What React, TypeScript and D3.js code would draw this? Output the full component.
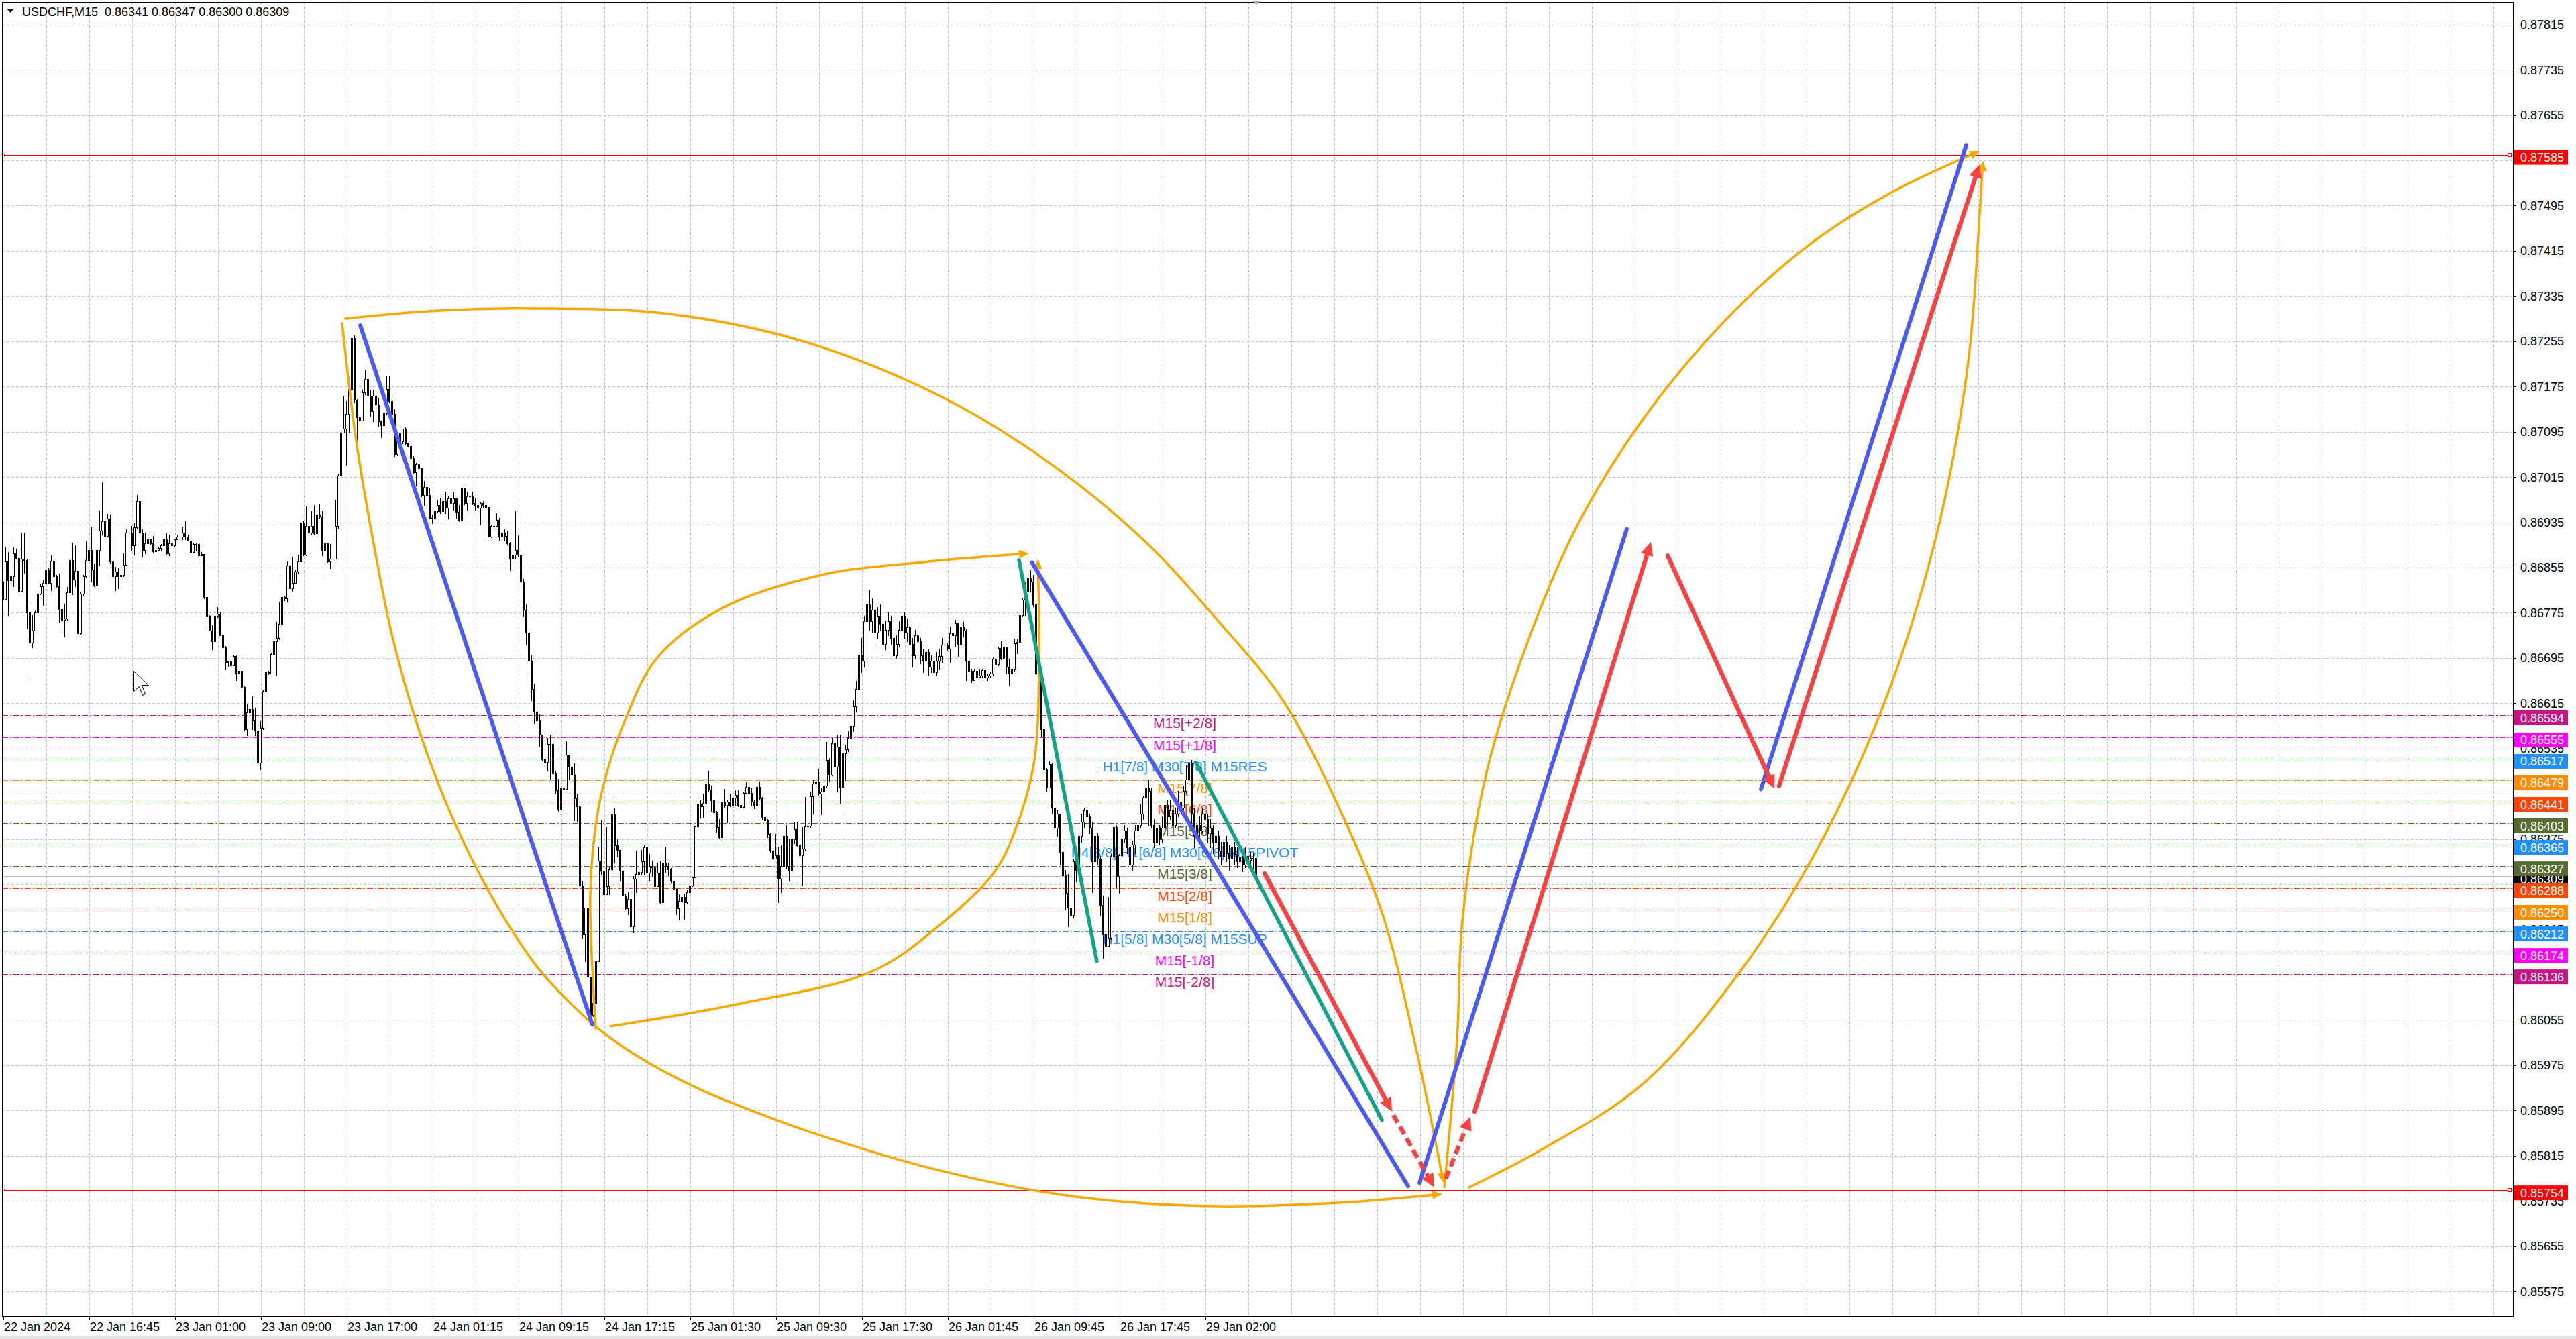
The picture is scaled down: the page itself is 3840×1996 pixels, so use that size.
import { useEffect } from 'react';
import * as d3 from 'd3';

// USDCHF M15 -- all prices are in points (1 point = 0.00001)

const W = 3840;
const H = 1996;
const FONT = '"Liberation Sans", Arial, sans-serif';

const firstOpen = 86830;

const closes = [
  86799, 86866, 86832, 86839, 86880, 86872, 86813, 86870, 86868, 86775,
  86722, 86743, 86776, 86809, 86822, 86828, 86851, 86828, 86867, 86840,
  86822, 86781, 86763, 86765, 86811, 86868, 86834, 86849, 86739, 86809,
  86840, 86868, 86886, 86852, 86824, 86886, 86920, 86937, 86911, 86942,
  86866, 86840, 86848, 86840, 86842, 86860, 86917, 86917, 86894, 86926,
  86973, 86917, 86886, 86898, 86905, 86898, 86884, 86886, 86889, 86894,
  86905, 86880, 86898, 86894, 86905, 86909, 86909, 86917, 86909, 86903,
  86882, 86896, 86896, 86876, 86879, 86803, 86769, 86743, 86724, 86769,
  86773, 86735, 86714, 86688, 86689, 86682, 86698, 86667, 86672, 86644,
  86569, 86599, 86605, 86585, 86567, 86510, 86571, 86637, 86670, 86668,
  86702, 86724, 86731, 86755, 86803, 86801, 86858, 86818, 86828, 86848,
  86866, 86934, 86878, 86929, 86917, 86929, 86915, 86949, 86945, 86886,
  86898, 86866, 86870, 86870, 86929, 87017, 87093, 87100, 87127, 87170,
  87261, 87151, 87121, 87115, 87165, 87188, 87159, 87131, 87159, 87143,
  87113, 87107, 87128, 87171, 87149, 87127, 87056, 87093, 87078, 87100,
  87074, 87070, 87048, 87024, 87038, 87030, 86983, 86997, 86983, 86943,
  86942, 86955, 86965, 86955, 86973, 86961, 86977, 86969, 86977, 86953,
  86939, 86995, 86969, 86981, 86981, 86969, 86965, 86961, 86969, 86965,
  86962, 86910, 86929, 86929, 86939, 86910, 86917, 86911, 86898, 86870,
  86878, 86886, 86878, 86830, 86780, 86740, 86690, 86640, 86600, 86585,
  86560, 86516, 86511, 86543, 86543, 86491, 86461, 86427, 86465, 86463,
  86524, 86503, 86489, 86447, 86433, 86293, 86206, 86253, 86131, 86064,
  86085, 86159, 86337, 86319, 86277, 86291, 86321, 86418, 86364, 86356,
  86319, 86275, 86252, 86269, 86220, 86305, 86313, 86317, 86335, 86360,
  86315, 86327, 86325, 86291, 86315, 86263, 86333, 86327, 86321, 86301,
  86287, 86252, 86266, 86273, 86263, 86281, 86293, 86307, 86397, 86437,
  86433, 86439, 86473, 86462, 86443, 86422, 86396, 86378, 86441, 86435,
  86441, 86435, 86448, 86453, 86435, 86431, 86457, 86467, 86457, 86441,
  86435, 86467, 86447, 86414, 86408, 86384, 86354, 86340, 86346, 86305,
  86327, 86380, 86327, 86319, 86374, 86392, 86364, 86346, 86358, 86397,
  86398, 86451, 86473, 86475, 86455, 86459, 86469, 86514, 86489, 86544,
  86503, 86538, 86467, 86526, 86534, 86554, 86575, 86610, 86640, 86700,
  86690, 86760, 86790, 86760, 86780, 86740, 86770, 86755, 86720, 86745,
  86760, 86730, 86700, 86720, 86745, 86770, 86740, 86750, 86720, 86700,
  86735, 86725, 86700, 86690, 86705, 86680, 86690, 86670, 86690, 86699,
  86719, 86719, 86711, 86739, 86735, 86757, 86719, 86749, 86743, 86690,
  86672, 86656, 86672, 86662, 86664, 86674, 86660, 86664, 86668, 86694,
  86684, 86713, 86694, 86715, 86680, 86668, 86676, 86721, 86723, 86771,
  86798, 86812, 86836, 86830, 86790, 86668, 86675, 86569, 86498, 86466,
  86508, 86430, 86395, 86420, 86352, 86310, 86280, 86253, 86240, 86336,
  86320, 86380, 86405, 86425, 86415, 86395, 86335, 86380, 86340, 86258,
  86206, 86186, 86200, 86344, 86396, 86309, 86346, 86376, 86390, 86360,
  86330, 86365, 86390, 86400, 86420, 86448, 86465, 86460, 86400, 86370,
  86395, 86375, 86395, 86435, 86415, 86425, 86400, 86420, 86440, 86430,
  86460, 86480, 86510, 86420, 86380, 86400, 86390, 86420, 86410, 86385,
  86395, 86370, 86380, 86355, 86345, 86370, 86350, 86340, 86360, 86348,
  86335, 86342, 86330, 86345, 86338, 86341, 86341, 86309,
];

const highs = [
  86834, 86890, 86882, 86905, 86890, 86888, 86878, 86917, 86917, 86870,
  86787, 86771, 86779, 86822, 86826, 86834, 86866, 86854, 86876, 86867,
  86842, 86844, 86791, 86791, 86820, 86888, 86899, 86894, 86852, 86811,
  86842, 86901, 86888, 86927, 86862, 86888, 86956, 87006, 86945, 86950,
  86949, 86909, 86856, 86854, 86850, 86880, 86923, 86921, 86929, 86933,
  86983, 86973, 86923, 86917, 86907, 86903, 86911, 86898, 86892, 86896,
  86915, 86915, 86913, 86896, 86905, 86913, 86911, 86927, 86937, 86913,
  86905, 86898, 86898, 86909, 86882, 86879, 86805, 86771, 86753, 86775,
  86785, 86775, 86736, 86716, 86690, 86690, 86700, 86700, 86674, 86672,
  86645, 86613, 86615, 86627, 86607, 86571, 86583, 86639, 86688, 86672,
  86704, 86755, 86759, 86795, 86838, 86805, 86866, 86880, 86874, 86850,
  86878, 86943, 86937, 86963, 86947, 86955, 86965, 86967, 86967, 86955,
  86919, 86899, 86896, 86905, 86975, 87021, 87141, 87157, 87149, 87192,
  87285, 87265, 87153, 87178, 87169, 87204, 87210, 87169, 87169, 87186,
  87155, 87115, 87131, 87194, 87194, 87157, 87135, 87095, 87095, 87101,
  87103, 87076, 87078, 87052, 87040, 87046, 87030, 87008, 86997, 86995,
  86949, 86957, 86975, 86977, 86981, 86989, 86981, 86991, 86989, 86977,
  86965, 86997, 86995, 86989, 86989, 86989, 86977, 86969, 86971, 86973,
  86965, 86961, 86931, 86933, 86951, 86943, 86919, 86923, 86919, 86900,
  86884, 86955, 86912, 86880, 86835, 86790, 86745, 86700, 86650, 86610,
  86595, 86560, 86520, 86554, 86560, 86560, 86495, 86481, 86469, 86472,
  86548, 86524, 86509, 86509, 86455, 86437, 86301, 86253, 86253, 86129,
  86100, 86192, 86360, 86408, 86321, 86396, 86325, 86447, 86429, 86374,
  86354, 86321, 86277, 86281, 86281, 86309, 86354, 86344, 86356, 86364,
  86392, 86348, 86337, 86333, 86333, 86337, 86346, 86362, 86333, 86323,
  86305, 86265, 86277, 86277, 86277, 86285, 86305, 86307, 86398, 86447,
  86443, 86455, 86481, 86495, 86469, 86443, 86424, 86410, 86443, 86463,
  86443, 86455, 86457, 86461, 86461, 86441, 86459, 86475, 86469, 86465,
  86443, 86479, 86477, 86449, 86416, 86410, 86386, 86356, 86384, 86360,
  86364, 86435, 86400, 86376, 86384, 86404, 86404, 86368, 86396, 86449,
  86400, 86459, 86479, 86499, 86499, 86465, 86481, 86546, 86518, 86554,
  86550, 86560, 86560, 86530, 86542, 86565, 86590, 86620, 86655, 86710,
  86730, 86770, 86810, 86815, 86800, 86790, 86785, 86790, 86765, 86760,
  86775, 86770, 86740, 86735, 86760, 86780, 86775, 86765, 86755, 86730,
  86745, 86750, 86730, 86710, 86715, 86710, 86700, 86695, 86705, 86711,
  86731, 86723, 86721, 86751, 86763, 86763, 86747, 86753, 86759, 86747,
  86694, 86676, 86676, 86680, 86676, 86676, 86672, 86666, 86670, 86696,
  86698, 86715, 86725, 86725, 86696, 86694, 86680, 86729, 86729, 86773,
  86800, 86830, 86842, 86850, 86842, 86790, 86685, 86672, 86636, 86500,
  86512, 86510, 86440, 86425, 86410, 86360, 86320, 86313, 86258, 86340,
  86350, 86395, 86420, 86430, 86432, 86420, 86405, 86498, 86385, 86345,
  86275, 86214, 86273, 86348, 86400, 86400, 86348, 86380, 86400, 86395,
  86370, 86372, 86400, 86410, 86436, 86452, 86490, 86480, 86465, 86410,
  86400, 86400, 86415, 86440, 86445, 86445, 86430, 86430, 86460, 86450,
  86470, 86505, 86538, 86515, 86430, 86410, 86415, 86430, 86445, 86420,
  86410, 86400, 86395, 86390, 86370, 86385, 86380, 86365, 86375, 86370,
  86360, 86358, 86350, 86360, 86355, 86352, 86350, 86347,
];

const lows = [
  86797, 86818, 86771, 86822, 86822, 86870, 86783, 86813, 86846, 86747,
  86662, 86714, 86743, 86775, 86807, 86789, 86811, 86826, 86815, 86822,
  86820, 86759, 86745, 86733, 86763, 86791, 86807, 86822, 86712, 86737,
  86805, 86838, 86868, 86830, 86822, 86824, 86858, 86913, 86909, 86909,
  86862, 86838, 86815, 86818, 86838, 86840, 86858, 86913, 86886, 86878,
  86925, 86905, 86874, 86880, 86896, 86896, 86882, 86868, 86885, 86885,
  86892, 86879, 86876, 86892, 86892, 86907, 86907, 86905, 86905, 86902,
  86881, 86882, 86885, 86868, 86877, 86801, 86768, 86743, 86710, 86722,
  86767, 86735, 86712, 86676, 86681, 86681, 86683, 86656, 86663, 86644,
  86567, 86558, 86597, 86569, 86558, 86508, 86498, 86569, 86633, 86666,
  86668, 86692, 86664, 86728, 86751, 86797, 86795, 86773, 86813, 86826,
  86846, 86862, 86876, 86876, 86905, 86913, 86913, 86913, 86943, 86876,
  86836, 86864, 86854, 86862, 86870, 86925, 87014, 87095, 87036, 87095,
  87170, 87147, 87068, 87091, 87115, 87161, 87155, 87123, 87113, 87137,
  87105, 87085, 87107, 87125, 87147, 87123, 87052, 87054, 87076, 87074,
  87072, 87068, 87046, 87022, 87000, 87018, 86981, 86965, 86981, 86941,
  86933, 86933, 86953, 86951, 86949, 86951, 86941, 86949, 86957, 86943,
  86937, 86937, 86967, 86957, 86969, 86967, 86957, 86955, 86931, 86961,
  86959, 86910, 86908, 86925, 86927, 86904, 86902, 86902, 86896, 86850,
  86850, 86870, 86874, 86820, 86770, 86720, 86670, 86620, 86580, 86560,
  86540, 86514, 86508, 86495, 86481, 86479, 86457, 86424, 86418, 86425,
  86465, 86481, 86457, 86408, 86406, 86291, 86200, 86159, 86085, 86050,
  86062, 86068, 86204, 86313, 86234, 86277, 86277, 86313, 86333, 86344,
  86301, 86256, 86250, 86242, 86214, 86210, 86281, 86297, 86313, 86313,
  86313, 86301, 86309, 86287, 86301, 86261, 86267, 86317, 86311, 86297,
  86283, 86242, 86232, 86238, 86234, 86261, 86277, 86291, 86309, 86392,
  86412, 86414, 86435, 86459, 86424, 86412, 86388, 86376, 86376, 86431,
  86404, 86433, 86431, 86435, 86433, 86427, 86433, 86455, 86453, 86435,
  86429, 86431, 86445, 86410, 86404, 86378, 86352, 86339, 86342, 86263,
  86281, 86325, 86323, 86301, 86315, 86368, 86363, 86329, 86293, 86356,
  86394, 86396, 86420, 86471, 86453, 86418, 86447, 86467, 86477, 86487,
  86500, 86459, 86439, 86422, 86479, 86530, 86550, 86565, 86600, 86630,
  86670, 86680, 86740, 86745, 86740, 86720, 86730, 86745, 86700, 86710,
  86735, 86720, 86690, 86695, 86715, 86740, 86730, 86725, 86705, 86680,
  86695, 86715, 86685, 86670, 86680, 86665, 86670, 86655, 86665, 86676,
  86688, 86711, 86709, 86688, 86711, 86715, 86699, 86731, 86733, 86656,
  86668, 86652, 86656, 86640, 86660, 86660, 86656, 86656, 86662, 86664,
  86676, 86682, 86692, 86699, 86668, 86646, 86664, 86672, 86703, 86705,
  86769, 86771, 86798, 86812, 86786, 86664, 86660, 86557, 86490, 86460,
  86466, 86420, 86385, 86380, 86330, 86290, 86250, 86220, 86188, 86236,
  86300, 86310, 86370, 86395, 86405, 86385, 86281, 86330, 86330, 86240,
  86165, 86164, 86186, 86198, 86340, 86290, 86280, 86310, 86370, 86350,
  86320, 86320, 86350, 86380, 86395, 86410, 86440, 86400, 86395, 86360,
  86360, 86365, 86370, 86385, 86400, 86410, 86380, 86395, 86415, 86400,
  86425, 86455, 86470, 86400, 86360, 86370, 86375, 86385, 86395, 86370,
  86360, 86350, 86355, 86340, 86330, 86340, 86335, 86320, 86335, 86330,
  86325, 86320, 86318, 86325, 86325, 86330, 86320, 86300,
];

const priceTicks = [
  87815, 87735, 87655, 87575, 87495, 87415, 87335, 87255, 87175, 87095,
  87015, 86935, 86855, 86775, 86695, 86615, 86535, 86455, 86375, 86295,
  86215, 86135, 86055, 85975, 85895, 85815, 85735, 85655, 85575,
];

const timeLabels = [
  '22 Jan 2024', '22 Jan 16:45', '23 Jan 01:00', '23 Jan 09:00', '23 Jan 17:00',
  '24 Jan 01:15', '24 Jan 09:15', '24 Jan 17:15', '25 Jan 01:30', '25 Jan 09:30',
  '25 Jan 17:30', '26 Jan 01:45', '26 Jan 09:45', '26 Jan 17:45', '29 Jan 02:00',
];

const levelPrices = [86594, 86555, 86517, 86479, 86441, 86403, 86365, 86327, 86288, 86250, 86212, 86174, 86136];
const levelNames = [
  'M15[+2/8]', 'M15[+1/8]', 'H1[7/8] M30[7/8] M15RES', 'M15[7/8]', 'M15[6/8]', 'M15[5/8]',
  'H4[3/8] H1[6/8] M30[6/8] M15PIVOT', 'M15[3/8]', 'M15[2/8]', 'M15[1/8]',
  'H1[5/8] M30[5/8] M15SUP', 'M15[-1/8]', 'M15[-2/8]',
];
const redLevels = [87585, 85754];
const bidPrice = 86309;
const headerText = 'USDCHF,M15  0.86341 0.86347 0.86300 0.86309';

// drawn objects: [bar index, price points]
type Pt = [number, number];
const blueLines: Pt[][] = [
  [[133, 87283], [219.5, 86047]],
  [[383.3, 86864], [523.5, 85761]],
  [[527.8, 85767], [605, 86923]],
  [[655, 86463], [731.5, 87602]],
];
const tealLines: Pt[][] = [
  [[378.5, 86868], [407.5, 86159]],
  [[444.5, 86510], [513.75, 85878]],
];
const redArrows: Pt[][] = [
  [[470, 86314], [517.5, 85893]],
  [[548.25, 85893], [614, 86900]],
  [[620.25, 86876], [660, 86464]],
  [[661.75, 86469], [736.5, 87568]],
];
const redDashedArrows: Pt[][] = [
  [[518, 85887], [533.25, 85759]],
  [[537.5, 85774], [546.75, 85884]],
];
const orangeArcLower: Pt[] = [
  [126.25, 87287], [131.25, 87087], [137.5, 86910], [145, 86732], [155, 86566],
  [167.5, 86411], [182.5, 86269], [198.75, 86150], [211.25, 86085], [223.75, 86032],
  [238.75, 85984], [258.75, 85934], [278.75, 85895], [298.75, 85860], [348.75, 85789],
  [398.75, 85743], [448.75, 85726], [498.75, 85732], [536.25, 85747],
];
const orangeArcUpper: Pt[] = [
  [127.5, 87295], [161.25, 87309], [198.75, 87313], [248.75, 87303], [298.75, 87254],
  [348.75, 87159], [386.25, 87052], [423.75, 86909], [453.75, 86755], [477, 86619],
  [498.75, 86420], [513.75, 86245], [525.75, 86020], [536.75, 85767],
];
const orangeArcInnerLow: Pt[] = [
  [226.25, 86044], [273.75, 86083], [323.75, 86141], [348.75, 86222], [369.25, 86316],
  [377.5, 86396], [384.25, 86515], [386, 86711], [385.5, 86870],
];
const orangeArcInnerHigh: Pt[] = [
  [220.75, 86040], [218.75, 86277], [221.25, 86415], [225, 86494], [231.25, 86580],
  [243.75, 86696], [268.25, 86784], [305, 86842], [341.5, 86864], [382.25, 86880],
];
const orangeArcRightOuter: Pt[] = [
  [537, 85759], [541.75, 86020], [543.75, 86231], [552.75, 86493], [568.25, 86726],
  [586.5, 86929], [611, 87117], [641.5, 87291], [672.25, 87423], [702.75, 87516], [736.5, 87592],
];
const orangeArcRightInner: Pt[] = [
  [546.25, 85759], [573.75, 85827], [611, 85942], [647.75, 86144], [678.25, 86377],
  [702.75, 86638], [721.25, 86929], [732.25, 87219], [736.5, 87481], [737.75, 87574],
];

const levelColors = ['#C71585', '#FF00FF', '#1E90FF', '#FF8C00', '#FF4500', '#556B2F', '#1E90FF', '#556B2F', '#FF4500', '#FF8C00', '#1E90FF', '#FF00FF', '#C71585'];
const BLUE = '#4A5BF2';
const TEAL = '#13A287';
const RED = '#F44343';
const ORANGE = '#F6A800';

const plot = { left: 3, top: 3, right: 3746, bottom: 1962 };
// axis price boxes sit slightly below their price
const BOX_UP = 7;
const BOX_H = 22;

type SP = [number, number];

function arrowParts(screen: SP[], len: number, wid: number) {
  const n = screen.length;
  const [tx, ty] = screen[n - 1];
  const [px, py] = screen[n - 2];
  const dx = tx - px;
  const dy = ty - py;
  const d = Math.hypot(dx, dy) || 1;
  const ux = dx / d;
  const uy = dy / d;
  const bx = tx - ux * len;
  const by = ty - uy * len;
  const head = [
    [tx, ty],
    [bx - (uy * wid) / 2, by + (ux * wid) / 2],
    [bx + (uy * wid) / 2, by - (ux * wid) / 2],
  ];
  const shaft: SP[] = screen.slice(0, n - 1).concat([[tx - ux * len * 0.75, ty - uy * len * 0.75]]);
  return { shaft, head: head.map(p => p.join(',')).join(' ') };
}

export default function App() {
  useEffect(() => {
    document.body.style.margin = '0';
  }, []);

  const x = d3.scaleLinear().domain([0, 935]).range([5, 3745]);
  const y = d3.scaleLinear().domain([85531.2, 87858.5]).range([plot.bottom, 0]);

  const toScreen = (pts: Pt[]): SP[] => pts.map(([b, p]) => [x(b), y(p)] as SP);
  const smooth = d3.line<SP>().curve(d3.curveCatmullRom.alpha(0.5));
  const straight = d3.line<SP>();

  const n = Math.min(closes.length, highs.length, lows.length);
  const candles = d3.range(n).map(i => {
    const o = i === 0 ? firstOpen : closes[i - 1];
    const c = closes[i];
    const hi = Math.max(highs[i], o, c);
    const lo = Math.min(lows[i], o, c);
    const cx = Math.round(x(i));
    const yTop = Math.round(y(Math.max(o, c))) + 0.5;
    const yBot = Math.round(y(Math.min(o, c))) + 0.5;
    return { i, cx, bear: c < o, yTop, yBot, yHi: Math.round(y(hi)), yLo: Math.round(y(lo)) + 1 };
  });

  const vGrid = d3.range(16, 935, 16);
  const labelBars = timeLabels.map((_, k) => k * 32);

  const orangeArcs = [orangeArcLower, orangeArcUpper, orangeArcInnerLow, orangeArcInnerHigh, orangeArcRightOuter, orangeArcRightInner];

  const fmt = (p: number) => (p / 100000).toFixed(5);

  // tick labels that are completely hidden under an axis box are not drawn
  const boxPrices = [...levelPrices, ...redLevels, bidPrice];
  const hidden = (p: number) =>
    boxPrices.some(b => {
      const top = y(b) - BOX_UP;
      const bot = top + BOX_H;
      return y(p) - 6 >= top && y(p) + 6 <= bot;
    }) ||
    (boxPrices.some(b => y(b) - BOX_UP <= y(p) - 6 && y(b) - BOX_UP + BOX_H > y(p) - 6) &&
      boxPrices.some(b => y(b) - BOX_UP < y(p) + 6 && y(b) - BOX_UP + BOX_H >= y(p) + 6));
  const shownTicks = priceTicks.filter(p => !hidden(p));

  const axisBox = (p: number, fill: string, key: string) => (
    <g key={key}>
      <rect x={3747} y={y(p) - BOX_UP} width={81} height={BOX_H} fill={fill} />
      <text x={3757} y={y(p) - BOX_UP + BOX_H / 2 + 6.5} fontSize={18} fill="#fff">{fmt(p)}</text>
    </g>
  );

  return (
    <svg width={W} height={H} style={{ display: 'block', background: '#ffffff' }} fontFamily={FONT}>
      <defs>
        <clipPath id="plotClip">
          <rect x={plot.left} y={plot.top} width={plot.right - plot.left} height={plot.bottom - plot.top} />
        </clipPath>
      </defs>
      <rect x={0} y={0} width={W} height={H} fill="#ffffff" />
      <rect x={0} y={1991} width={W} height={5} fill="#E6E6E6" />

      <g clipPath="url(#plotClip)">
        {/* grid */}
        {vGrid.map(b => (
          <line key={'vg' + b} x1={Math.round(x(b)) + 0.5} x2={Math.round(x(b)) + 0.5} y1={plot.top} y2={plot.bottom}
            stroke="#C4C4C4" strokeDasharray="4,3" />
        ))}
        {priceTicks.map(p => (
          <line key={'hg' + p} x1={plot.left} x2={plot.right} y1={Math.round(y(p)) + 0.5} y2={Math.round(y(p)) + 0.5}
            stroke="#C4C4C4" strokeDasharray="4,3" />
        ))}

        {/* Murrey levels */}
        {levelPrices.map((p, k) => (
          <line key={'lv' + p} x1={plot.left} x2={plot.right} y1={Math.round(y(p)) + 0.5} y2={Math.round(y(p)) + 0.5}
            stroke={levelColors[k]} strokeDasharray={p === 86365 ? '13,5' : '9,3,2,3'} />
        ))}
        <line x1={plot.left} x2={plot.right} y1={Math.round(y(bidPrice)) + 0.5} y2={Math.round(y(bidPrice)) + 0.5} stroke="#C0C0C0" />
        {redLevels.map(p => (
          <g key={'rl' + p}>
            <line x1={plot.left} x2={plot.right} y1={Math.round(y(p)) + 0.5} y2={Math.round(y(p)) + 0.5} stroke="#FF0000" />
            <rect x={plot.right - 7.5} y={Math.round(y(p)) - 2.5} width={5} height={5} fill="#fff" stroke="#FF0000" />
            <rect x={plot.left + 0.5} y={Math.round(y(p)) - 1.5} width={3} height={3} fill="#fff" stroke="#FF0000" />
          </g>
        ))}

        {levelPrices.map((p, k) => (
          <text key={'lt' + p} x={x(440.25)} y={y(p) + 19} textAnchor="middle" fontSize={21} fill={levelColors[k]}>
            {levelNames[k]}
          </text>
        ))}

        {/* candles */}
        {candles.map(c => (
          <g key={'c' + c.i}>
            <line x1={c.cx - 0.5} x2={c.cx - 0.5} y1={c.yHi} y2={c.yLo} stroke="#000" strokeWidth={1} />
            {c.yBot - c.yTop >= 1 ? (
              <rect x={c.cx - 1.5} y={c.yTop} width={2} height={c.yBot - c.yTop} fill={c.bear ? '#000' : '#fff'} stroke="#000" strokeWidth={1} />
            ) : (
              <line x1={c.cx - 2} x2={c.cx + 1} y1={c.yTop} y2={c.yTop} stroke="#000" strokeWidth={1} />
            )}
          </g>
        ))}

        {/* drawn objects */}
        {orangeArcs.map((arc, k) => {
          const a = arrowParts(toScreen(arc), 15, 13);
          return (
            <g key={'oa' + k}>
              <path d={smooth(a.shaft) || ''} fill="none" stroke={ORANGE} strokeWidth={3.5} strokeLinecap="round" />
              <polygon points={a.head} fill={ORANGE} />
            </g>
          );
        })}
        {blueLines.map((ln, k) => (
          <path key={'bl' + k} d={straight(toScreen(ln)) || ''} fill="none" stroke={BLUE} strokeWidth={6} strokeLinecap="round" />
        ))}
        {tealLines.map((ln, k) => (
          <path key={'tl' + k} d={straight(toScreen(ln)) || ''} fill="none" stroke={TEAL} strokeWidth={5.5} strokeLinecap="round" />
        ))}
        {redArrows.map((ln, k) => {
          const a = arrowParts(toScreen(ln), 20, 19);
          return (
            <g key={'ra' + k}>
              <path d={straight(a.shaft) || ''} fill="none" stroke={RED} strokeWidth={6.5} strokeLinecap="round" />
              <polygon points={a.head} fill={RED} />
            </g>
          );
        })}
        {redDashedArrows.map((ln, k) => {
          const a = arrowParts(toScreen(ln), 20, 19);
          return (
            <g key={'rd' + k}>
              <path d={straight(a.shaft) || ''} fill="none" stroke={RED} strokeWidth={6.5} strokeDasharray="13,7" />
              <polygon points={a.head} fill={RED} />
            </g>
          );
        })}

        {/* mouse cursor */}
        <polygon points="199,1000 199,1030 207,1023 212,1036 216,1034 211,1021 221,1021" transform="translate(0.5,0.5)"
          fill="#fff" stroke="#000" strokeWidth={1} />
      </g>

      {/* frame */}
      <rect x={plot.left + 0.5} y={plot.top + 0.5} width={plot.right - plot.left} height={plot.bottom - plot.top}
        fill="none" stroke="#000" strokeWidth={1} />
      <polygon points="1866,1 1880,1 1873,7" fill="#A8A8A8" />

      {/* header */}
      <polygon points="10,13 21,13 15.5,19" fill="#000" />
      <text x={33} y={24} fontSize={18} fill="#000" style={{ whiteSpace: 'pre' }}>{headerText}</text>

      {/* time axis */}
      {labelBars.map((b, k) => (
        <g key={'tx' + k}>
          <line x1={Math.round(x(b)) + 0.5} x2={Math.round(x(b)) + 0.5} y1={plot.bottom} y2={plot.bottom + 6} stroke="#000" />
          <text x={Math.round(x(b)) + 1} y={1984} fontSize={18} fill="#000">{timeLabels[k]}</text>
        </g>
      ))}

      {/* price axis */}
      {priceTicks.map(p => (
        <line key={'ym' + p} x1={plot.right} x2={plot.right + 5} y1={Math.round(y(p)) + 0.5} y2={Math.round(y(p)) + 0.5} stroke="#000" />
      ))}
      {shownTicks.map(p => (
        <text key={'yt' + p} x={3757} y={y(p) + 6.5} fontSize={18} fill="#000">{fmt(p)}</text>
      ))}
      {axisBox(bidPrice, '#000', 'bid')}
      {levelPrices.map((p, k) => axisBox(p, levelColors[k], 'yb' + p))}
      {redLevels.map(p => axisBox(p, '#FF0000', 'yr' + p))}
    </svg>
  );
}
